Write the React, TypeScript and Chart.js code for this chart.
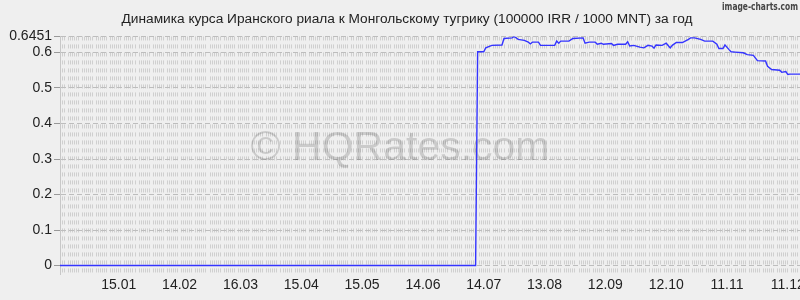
import React, { useEffect, useRef } from "react";
import { Chart, registerables } from "chart.js";

Chart.register(...registerables);

const TITLE = "Динамика курса Иранского риала к Монгольскому тугрику (100000 IRR / 1000 MNT) за год";
const WATERMARK = "© HQRates.com";
const BRAND = "image-charts.com";

// days since the first day of the period (17.12)
const dayIndex = [
  0, 205, 206, 209, 210, 213, 218, 219, 223, 224, 226, 229, 231, 232, 233, 236, 237, 244, 245, 246,
  247, 251, 253, 258, 259, 261, 264, 265, 267, 268, 272, 273, 275, 279, 280, 281, 283, 286, 288, 290,
  292, 293, 294, 297, 299, 301, 302, 304, 307, 310, 311, 313, 316, 318, 322, 324, 325, 327, 328, 330,
  331, 333, 337, 339, 342, 344, 348, 349, 351, 355, 356, 358, 359, 360, 365,
];
const rateValues = [
  0, 0, 0.602, 0.602, 0.613, 0.62, 0.621, 0.6395, 0.641, 0.6451, 0.637, 0.634, 0.629, 0.624, 0.629, 0.629, 0.62, 0.62, 0.632, 0.626,
  0.632, 0.632, 0.6395, 0.641, 0.626, 0.629, 0.629, 0.623, 0.626, 0.623, 0.625, 0.62, 0.623, 0.623, 0.63, 0.618, 0.62, 0.615, 0.613, 0.62,
  0.618, 0.612, 0.621, 0.62, 0.626, 0.613, 0.62, 0.628, 0.628, 0.637, 0.641, 0.641, 0.637, 0.632, 0.632, 0.623, 0.611, 0.611, 0.621, 0.608,
  0.602, 0.601, 0.599, 0.594, 0.592, 0.577, 0.576, 0.561, 0.552, 0.55, 0.544, 0.546, 0.538, 0.539, 0.539,
];

const xTickDays = [29, 59, 89, 119, 149, 179, 209, 239, 269, 299, 329, 359];
const xTickLabels = ["15.01", "14.02", "16.03", "15.04", "15.05", "14.06", "14.07", "13.08", "12.09", "12.10", "11.11", "11.12"];
const yTickValues = [0, 0.1, 0.2, 0.3, 0.4, 0.5, 0.6, 0.6451];
const TOTAL_DAYS = 365;
const Y_MIN = -0.0255;
const Y_MAX = 0.6451;

const FONT = "'Liberation Sans', Arial, sans-serif";

const overlayPlugin = {
  id: "overlay",
  afterLayout(chart: any) {
    const t = chart.titleBlock;
    if (t) t.left = t.left + 14;
  },
  beforeDatasetsDraw(chart: any) {
    const { ctx } = chart;
    ctx.save();
    ctx.font = `41px ${FONT}`;
    ctx.fillStyle = "rgba(0,0,0,0.15)";
    ctx.textAlign = "center";
    ctx.textBaseline = "alphabetic";
    ctx.fillText(WATERMARK, 400, 160);
    ctx.restore();
  },
  afterDraw(chart: any) {
    const { ctx } = chart;
    ctx.save();
    ctx.font = `bold 11px 'DejaVu Sans', sans-serif`;
    ctx.fillStyle = "#444";
    ctx.textAlign = "right";
    ctx.textBaseline = "alphabetic";
    ctx.fillText(BRAND, 798, 10, 76);
    ctx.restore();
  },
};

export default function App() {
  const ref = useRef<HTMLCanvasElement | null>(null);
  useEffect(() => {
    if (!ref.current) return;
    const labelMap: Record<number, string> = {};
    xTickDays.forEach((d, i) => (labelMap[d] = xTickLabels[i]));
    const points = dayIndex.map((d, i) => ({ x: d, y: rateValues[i] }));
    const chart = new Chart(ref.current, {
      type: "line",
      data: {
        datasets: [
          {
            data: points,
            borderColor: "#3434ff",
            borderWidth: 1.4,
            pointRadius: 0,
            tension: 0,
            fill: false,
          },
        ],
      },
      options: {
        animation: false,
        responsive: false,
        layout: { padding: { left: 0, right: 30, top: 0, bottom: 0 } },
        plugins: {
          legend: { display: false },
          tooltip: { enabled: false },
          title: {
            display: true,
            text: TITLE,
            color: "#222",
            font: { family: FONT, size: 13.7, weight: "normal" },
            padding: { top: 11, bottom: 9 },
          },
        },
        scales: {
          x: {
            type: "linear",
            min: 0,
            max: TOTAL_DAYS,
            afterBuildTicks: (scale: any) => {
              const t = [];
              for (let d = 0; d <= TOTAL_DAYS; d++) t.push({ value: d });
              scale.ticks = t;
            },
            afterFit: (scale: any) => {
              scale.height = 25.4;
            },
            ticks: {
              autoSkip: false,
              maxRotation: 0,
              padding: 2,
              color: "#222",
              font: { family: FONT, size: 14 },
              callback: (v: any) => labelMap[v] ?? "",
            },
            grid: {
              drawTicks: false,
              lineWidth: 1,
              color: (c: any) => (c.tick && c.tick.value % 7 === 3 ? "rgba(0,0,0,0)" : "rgba(185,185,185,0.6)"),
            },
            border: { display: false, dash: [4, 4] },
          },
          y: {
            type: "linear",
            min: Y_MIN,
            max: Y_MAX,
            afterBuildTicks: (scale: any) => {
              scale.ticks = yTickValues.map((v) => ({ value: v }));
            },
            afterFit: (scale: any) => {
              scale.width = 60;
            },
            ticks: {
              padding: 2,
              color: "#222",
              font: { family: FONT, size: 14 },
              callback: (v: any) => String(Math.round(v * 10000) / 10000),
            },
            grid: {
              color: "#bdbdbd",
              lineWidth: 1,
              drawTicks: true,
              tickLength: 6,
              tickColor: "#999",
              tickBorderDash: [],
            },
            border: { display: true, color: "#c8c8c8", dash: [5, 3] },
          },
        },
      },
      plugins: [overlayPlugin],
    } as any);
    return () => chart.destroy();
  }, []);

  return (
    <div style={{ position: "fixed", left: 0, top: 0, width: 800, height: 300, overflow: "hidden", background: "#efefef" }}>
      <canvas ref={ref} width={830} height={300} style={{ width: 830, height: 300, display: "block" }} />
    </div>
  );
}
